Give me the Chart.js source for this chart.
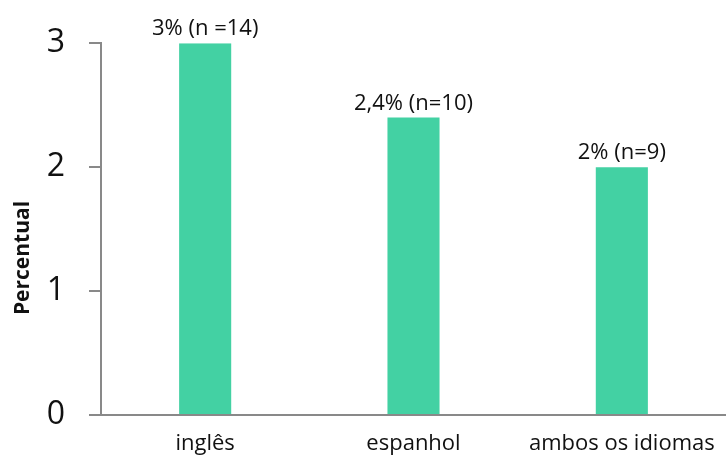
<!DOCTYPE html>
<html lang="pt">
<head>
<meta charset="UTF-8">
<title>Percentual por idioma</title>
<script src="https://cdn.jsdelivr.net/npm/chart.js"></script>
<style>
  html, body { margin: 0; padding: 0; background: #fff; }
  #grafico { display: block; }
</style>
</head>
<body>
<canvas id="grafico" width="726" height="464"></canvas>
<script>
// dados do gráfico
const idiomas = ['inglês', 'espanhol', 'ambos os idiomas'];
const percentuais = [3, 2.4, 2];
const rotulos = ['3% (n =14)', '2,4% (n=10)', '2% (n=9)'];
const ticksY = [0, 1, 2, 3];
const tituloY = 'Percentual';

const fonte = '"Open Sans", Lato, sans-serif';
const cinza = '#898989';

// rótulos acima das barras e título do eixo y
const textos = {
  id: 'textos',
  afterDatasetsDraw(chart) {
    const ctx = chart.ctx;
    const meta = chart.getDatasetMeta(0);
    ctx.save();
    ctx.font = '22px ' + fonte;
    ctx.fillStyle = '#111';
    ctx.textAlign = 'center';
    ctx.textBaseline = 'alphabetic';
    meta.data.forEach((barra, i) => {
      ctx.fillText(rotulos[i], barra.x, barra.y - 8);
    });
    // título vertical
    ctx.translate(23, 258);
    ctx.rotate(-Math.PI / 2);
    ctx.textBaseline = 'middle';
    ctx.font = 'bold 21px ' + fonte;
    ctx.fillText(tituloY, 0, 0);
    ctx.restore();
  }
};

new Chart(document.getElementById('grafico'), {
  type: 'bar',
  data: {
    labels: idiomas,
    datasets: [{
      data: percentuais,
      backgroundColor: '#43D1A3',
      barPercentage: 1,
      categoryPercentage: 0.25
    }]
  },
  options: {
    responsive: false,
    animation: false,
    layout: { padding: { top: 42, right: 0, left: 0, bottom: 0 } },
    plugins: {
      legend: { display: false },
      tooltip: { enabled: false }
    },
    scales: {
      x: {
        grid: { display: false },
        border: { display: true, color: cinza, width: 2 },
        ticks: { color: '#111', font: { family: fonte, size: 22 }, padding: 8, maxRotation: 0 },
        afterFit(scale) { scale.height = 49; }
      },
      y: {
        min: 0,
        max: 3,
        afterBuildTicks(scale) { scale.ticks = ticksY.map(v => ({ value: v })); },
        grid: { drawOnChartArea: false, tickLength: 12, color: cinza, lineWidth: 2 },
        border: { display: true, color: cinza, width: 2 },
        ticks: { color: '#111', font: { family: fonte, size: 32 }, padding: 24 },
        afterFit(scale) { scale.width = 101; }
      }
    }
  },
  plugins: [textos]
});
</script>
</body>
</html>
